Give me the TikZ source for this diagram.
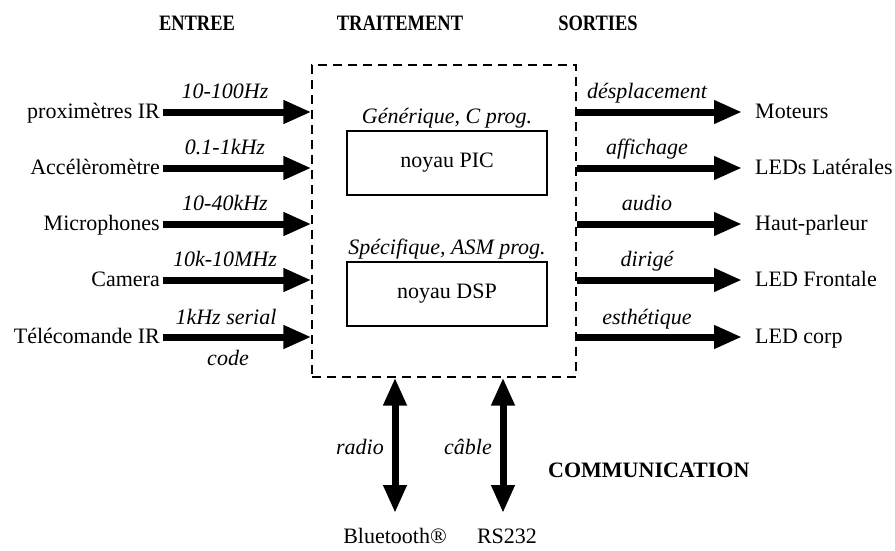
\documentclass[tikz,border=0pt]{standalone}
\usepackage{fontspec}
\setmainfont{Liberation Serif}
\usetikzlibrary{arrows.meta}
\newcommand{\hdrtext}[1]{\scalebox{0.84}[1]{#1}}
\begin{document}
\begin{tikzpicture}[x=1pt,y=-1pt,
  every node/.style={inner sep=0pt, font=\fontsize{22}{26}\selectfont},
  lbl/.style={font=\fontsize{22}{26}\selectfont\itshape},
  hdr/.style={font=\fontsize{22}{26}\selectfont\bfseries},
  commlbl/.style={font=\fontsize{22}{26}\selectfont\bfseries},
  fat/.style={line width=7pt, -{Triangle[length=28pt,width=22pt]}},
  fatboth/.style={line width=7pt, {Triangle[length=28pt,width=22pt]}-{Triangle[length=28pt,width=22pt]}},
  corebox/.style={draw, line width=1.2pt, minimum width=200pt, minimum height=64pt},
  procbox/.style={draw, line width=1.2pt, dash pattern=on 9pt off 6pt, minimum width=264pt, minimum height=312pt},
]
\useasboundingbox (0,0) rectangle (895,550);

% headers
\node[hdr, anchor=base] (hEntree) at (197,30) {\hdrtext{ENTREE}};
\node[hdr, anchor=base] (hTrait) at (400,30) {\hdrtext{TRAITEMENT}};
\node[hdr, anchor=base] (hSort) at (598,30) {\hdrtext{SORTIES}};

% processing box
\node[procbox] (proc) at (444,221) {};
\node[corebox] (pic) at (447,163) {noyau PIC};
\node[lbl, anchor=base] (picl) at (447,123) {Générique, C prog.};
\node[corebox] (dsp) at (447,294) {noyau DSP};
\node[lbl, anchor=base] (dspl) at (447,254) {Spécifique, ASM prog.};

% inputs
\node[anchor=base east] (src1) at (160,118) {proximètres IR};
\node[anchor=base east] (src2) at (160,174) {Accélèromètre};
\node[anchor=base east] (src3) at (160,230) {Microphones};
\node[anchor=base east] (src4) at (160,286) {Camera};
\node[anchor=base east] (src5) at (160,343) {Télécomande IR};
\coordinate (s1) at (163,112);
\coordinate (s2) at (163,168);
\coordinate (s3) at (163,224);
\coordinate (s4) at (163,280);
\coordinate (s5) at (163,337);
\draw[fat] (s1) -- (s1 -| proc.west);
\draw[fat] (s2) -- (s2 -| proc.west);
\draw[fat] (s3) -- (s3 -| proc.west);
\draw[fat] (s4) -- (s4 -| proc.west);
\draw[fat] (s5) -- (s5 -| proc.west);
\node[lbl, anchor=base] (f1) at (225,98) {10-100Hz};
\node[lbl, anchor=base] (f2) at (225,154) {0.1-1kHz};
\node[lbl, anchor=base] (f3) at (225,210) {10-40kHz};
\node[lbl, anchor=base] (f4) at (225,266) {10k-10MHz};
\node[lbl, anchor=base] (f5) at (226,324) {1kHz serial};
\node[lbl, anchor=base] (f5b) at (228,365) {code};

% outputs
\coordinate (t1) at (742,112);
\coordinate (t2) at (742,168);
\coordinate (t3) at (742,224);
\coordinate (t4) at (742,280);
\coordinate (t5) at (742,337);
\draw[fat] (t1 -| proc.east) -- (t1);
\draw[fat] (t2 -| proc.east) -- (t2);
\draw[fat] (t3 -| proc.east) -- (t3);
\draw[fat] (t4 -| proc.east) -- (t4);
\draw[fat] (t5 -| proc.east) -- (t5);
\node[lbl, anchor=base] (g1) at (647,98) {désplacement};
\node[lbl, anchor=base] (g2) at (647,154) {affichage};
\node[lbl, anchor=base] (g3) at (647,210) {audio};
\node[lbl, anchor=base] (g4) at (647,266) {dirigé};
\node[lbl, anchor=base] (g5) at (647,324) {esthétique};
\node[anchor=base west] (d1) at (755,118) {Moteurs};
\node[anchor=base west] (d2) at (755,174) {LEDs Latérales};
\node[anchor=base west] (d3) at (755,230) {Haut-parleur};
\node[anchor=base west] (d4) at (755,286) {LED Frontale};
\node[anchor=base west] (d5) at (755,343) {LED corp};

% communication
\coordinate (c1) at (395,513);
\coordinate (c2) at (503,513);
\draw[fatboth] (c1) -- (c1 |- proc.south);
\draw[fatboth] (c2) -- (c2 |- proc.south);
\node[lbl, anchor=base] (r1) at (360,454) {radio};
\node[lbl, anchor=base] (r2) at (468,454) {câble};
\node[commlbl, anchor=base west] (comm) at (548,477) {COMMUNICATION};
\node[anchor=base] (bt) at (395,543) {Bluetooth®};
\node[anchor=base] (rs) at (507,543) {RS232};
\end{tikzpicture}
\end{document}
